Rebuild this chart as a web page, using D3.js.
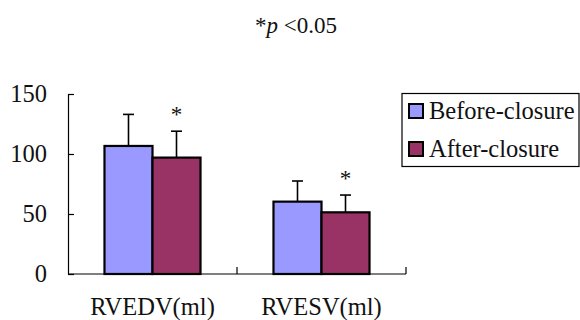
<!DOCTYPE html>
<html><head><meta charset="utf-8">
<script src="https://cdn.jsdelivr.net/npm/d3@7/dist/d3.min.js"></script>
<style>body{margin:0;background:#fff;}svg{display:block;font-family:"Liberation Serif","Times New Roman",serif;}</style>
</head><body>
<script>
const categories = ["RVEDV(ml)", "RVESV(ml)"];
const seriesNames = ["Before-closure", "After-closure"];
const beforeMean = [106.7, 60.3];
const beforeSD = [26.3, 17.2];
const afterMean = [97, 51.4];
const afterSD = [22, 14.4];
const significant = [true, true];
const yTicks = [0, 50, 100, 150];
const colors = ["#9999FF", "#993366"];

const W = 580, H = 320;
const svg = d3.select("body").append("svg").attr("width", W).attr("height", H);

const x = d3.scaleBand().domain(categories).range([68, 406]).padding(0);
const sub = d3.scaleBand().domain(seriesNames).range([0, x.bandwidth()]).paddingOuter(0.76).paddingInner(0);
const y = d3.scaleLinear().domain([0, 150]).range([274, 94]);

const data = categories.map((c, i) => ({
  cat: c,
  bars: [
    {s: seriesNames[0], m: beforeMean[i], sd: beforeSD[i], color: colors[0]},
    {s: seriesNames[1], m: afterMean[i], sd: afterSD[i], color: colors[1], star: significant[i]}
  ]
}));

const ink = sel => sel.attr("fill", "#111");

// title
const title = svg.append("text").attr("x", 296).attr("y", 33).attr("text-anchor", "middle").attr("font-size", 23).call(ink);
title.append("tspan").text("*");
title.append("tspan").attr("font-style", "italic").text("p");
title.append("tspan").text(" <0.05");

// bars
const g = svg.append("g");
data.forEach(d => {
  d.bars.forEach(b => {
    const bx = x(d.cat) + sub(b.s);
    const bw = sub.bandwidth();
    g.append("rect").attr("x", bx).attr("y", y(b.m)).attr("width", bw).attr("height", y(0) - y(b.m))
      .attr("fill", b.color).attr("stroke", "#000").attr("stroke-width", 2.2);
    const cx = bx + bw / 2;
    g.append("line").attr("x1", cx).attr("x2", cx).attr("y1", y(b.m)).attr("y2", y(b.m + b.sd))
      .attr("stroke", "#000").attr("stroke-width", 1.6);
    g.append("line").attr("x1", cx - 5.5).attr("x2", cx + 5.5).attr("y1", y(b.m + b.sd)).attr("y2", y(b.m + b.sd))
      .attr("stroke", "#000").attr("stroke-width", 1.6);
    if (b.star) {
      g.append("text").attr("x", cx).attr("y", y(b.m + b.sd) - 9).attr("text-anchor", "middle")
        .attr("font-size", 23).text("*").call(ink);
    }
  });
});

// y axis
const yAxis = d3.axisLeft(y).tickValues(yTicks).tickSizeInner(-6).tickSizeOuter(0).tickPadding(21);
const ya = svg.append("g").attr("transform", "translate(68,0)").call(yAxis);
ya.select(".domain").attr("stroke", "#000").attr("stroke-width", 1.2);
ya.selectAll(".tick line").attr("stroke", "#000").attr("stroke-width", 1.2);
ya.selectAll(".tick text").attr("font-size", 24.5).attr("font-family", "Liberation Serif").call(ink);

// x axis
const xa = svg.append("g").attr("transform", `translate(0,${y(0)})`);
xa.append("line").attr("x1", 68).attr("x2", 406).attr("y1", 0).attr("y2", 0).attr("stroke", "#000").attr("stroke-width", 1.2);
categories.forEach((c, i) => {
  const xr = x(c) + x.bandwidth();
  xa.append("line").attr("x1", xr).attr("x2", xr).attr("y1", 0).attr("y2", -7).attr("stroke", "#000").attr("stroke-width", 1.2);
  xa.append("text").attr("x", x(c) + x.bandwidth() / 2).attr("y", 41).attr("text-anchor", "middle")
    .attr("font-size", 24.5).text(c).call(ink);
});

// legend
const lg = svg.append("g");
lg.append("rect").attr("x", 402).attr("y", 93.5).attr("width", 177).attr("height", 73).attr("fill", "#fff")
  .attr("stroke", "#000").attr("stroke-width", 1.2);
seriesNames.forEach((s, i) => {
  const ly = 104 + i * 38;
  lg.append("rect").attr("x", 409).attr("y", ly).attr("width", 14).attr("height", 14)
    .attr("fill", colors[i]).attr("stroke", "#000").attr("stroke-width", 2);
  lg.append("text").attr("x", 429).attr("y", ly + 15).attr("font-size", 24.5).text(s).call(ink);
});
</script>
</body></html>
